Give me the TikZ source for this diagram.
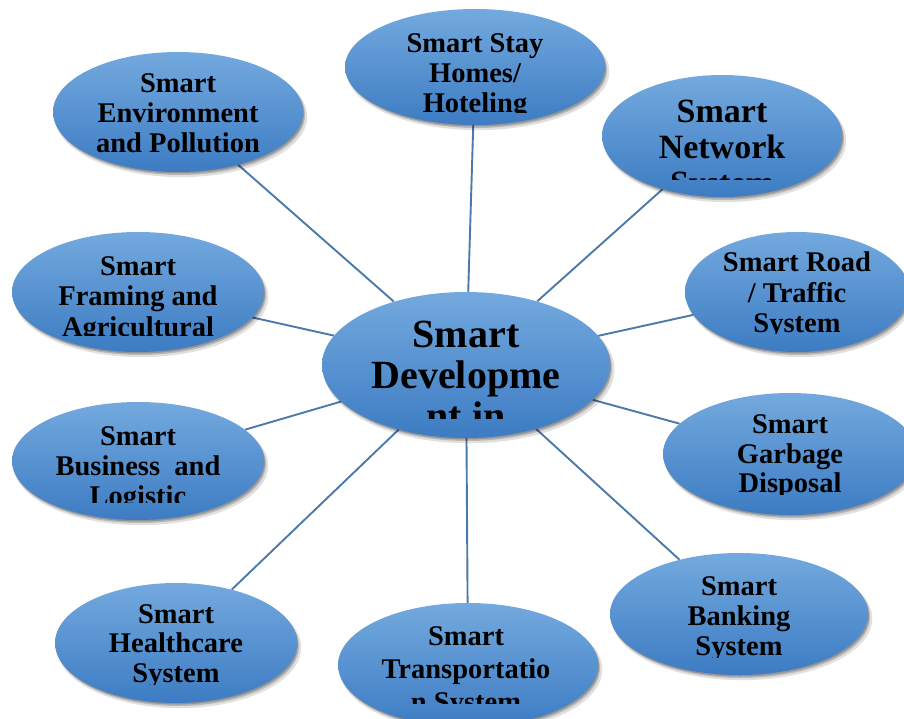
\documentclass[tikz,border=0pt]{standalone}
\usepackage{fontspec}
\setmainfont{Liberation Serif}
\usetikzlibrary{shapes.geometric,shadows,backgrounds}
\definecolor{bubtop}{HTML}{73A9DE}
\definecolor{bubbot}{HTML}{3D7CC3}
\definecolor{linkc}{HTML}{4A7AAA}
\tikzset{
  bub/.style={ellipse, inner sep=0pt, draw=none, top color=bubtop, bottom color=bubbot,
    drop shadow={shadow xshift=3pt, shadow yshift=-4.5pt, shadow scale=1.01, opacity=0.12, fill=black},
    drop shadow={shadow xshift=2pt, shadow yshift=-3pt, opacity=0.18, fill=black},
    drop shadow={shadow xshift=1pt, shadow yshift=-1.5pt, opacity=0.2, fill=black}},
  conn/.style={draw=linkc, line width=1.9pt},
  lbl/.style={anchor=base, inner sep=0pt, font=\bfseries\fontsize{28.5}{30}\selectfont},
  lblbig/.style={anchor=base, inner sep=0pt, font=\bfseries\fontsize{40}{41}\selectfont},
  lblmid/.style={anchor=base, inner sep=0pt, font=\bfseries\fontsize{34}{36}\selectfont},
}
\begin{document}
\begin{tikzpicture}[x=1pt,y=-1pt]
\clip (0,0) rectangle (904,719);
\useasboundingbox (0,0) rectangle (904,719);

% bubbles
\node[bub, minimum width=288pt, minimum height=146pt] (c) at (466,365) {};
\node[bub, minimum width=260pt, minimum height=116pt] (stay) at (475,67) {};
\node[bub, minimum width=240pt, minimum height=122pt] (net) at (722,136) {};
\node[bub, minimum width=224pt, minimum height=120pt] (road) at (797,292) {};
\node[bub, minimum width=254pt, minimum height=122pt] (garb) at (790,454) {};
\node[bub, minimum width=258pt, minimum height=122pt] (bank) at (739,614) {};
\node[bub, minimum width=260pt, minimum height=124pt] (trans) at (468,665) {};
\node[bub, minimum width=242pt, minimum height=120pt] (health) at (176,643) {};
\node[bub, minimum width=252pt, minimum height=118pt] (busi) at (138,461) {};
\node[bub, minimum width=252pt, minimum height=120pt] (farm) at (138,292) {};
\node[bub, minimum width=250pt, minimum height=120pt] (env) at (178,112) {};

% connectors
\begin{pgfonlayer}{background}
\draw[conn] (c) -- (env);
\draw[conn] (c) -- (stay);
\draw[conn] (c) -- (net);
\draw[conn] (c) -- (road);
\draw[conn] (c) -- (garb);
\draw[conn] (c) -- (bank);
\draw[conn] (c) -- (trans);
\draw[conn] (c) -- (health);
\draw[conn] (c) -- (busi);
\draw[conn] (c) -- (farm);
\end{pgfonlayer}

% texts
\begin{scope}
\clip (322,292) rectangle (610,418);
\node[lblbig] (c1) at (466,347) {Smart};
\node[lblbig] (c2) at (466,388) {Developme};
\node[lblbig] (c3) at (466,429) {nt in};
\end{scope}

\begin{scope}
\clip (345,9) rectangle (605,113);
\node[lbl] (stay1) at (475,53) {Smart Stay};
\node[lbl] (stay2) at (475,83) {Homes/};
\node[lbl] (stay3) at (475,113) {Hoteling};
\end{scope}

\begin{scope}
\clip (602,75) rectangle (842,180);
\node[lblmid] (net1) at (722,123) {Smart};
\node[lblmid] (net2) at (722,159) {Network};
\node[lblmid] (net3) at (722,195) {System};
\end{scope}

\begin{scope}
\clip (685,232) rectangle (909,333.5);
\node[lbl] (road1) at (797,272) {Smart Road};
\node[lbl] (road2) at (797,302) {/ Traffic};
\node[lbl] (road3) at (797,332) {System};
\end{scope}

\begin{scope}
\clip (663,393) rectangle (917,494);
\node[lbl] (garb1) at (790,433) {Smart};
\node[lbl] (garb2) at (790,463) {Garbage};
\node[lbl] (garb3) at (790,492) {Disposal};
\end{scope}

\begin{scope}
\clip (610,553) rectangle (868,657);
\node[lbl] (bank1) at (739,595) {Smart};
\node[lbl] (bank2) at (739,625) {Banking};
\node[lbl] (bank3) at (739,655) {System};
\end{scope}

\begin{scope}
\clip (338,603) rectangle (598,703);
\node[lbl] (trans1) at (466,645) {Smart};
\node[lbl] (trans2) at (466,678) {Transportatio};
\node[lbl] (trans3) at (466,711) {n System};
\end{scope}

\begin{scope}
\clip (55,583) rectangle (297,684);
\node[lbl] (health1) at (176,623) {Smart};
\node[lbl] (health2) at (176,652) {Healthcare};
\node[lbl] (health3) at (176,682) {System};
\end{scope}

\begin{scope}
\clip (12,402) rectangle (264,502);
\node[lbl] (busi1) at (138,445) {Smart};
\node[lbl] (busi2) at (138,475) {Business\ \ and};
\node[lbl] (busi3) at (138,505) {Logistic};
\end{scope}

\begin{scope}
\clip (12,232) rectangle (264,335);
\node[lbl] (farm1) at (138,275) {Smart};
\node[lbl] (farm2) at (138,305) {Framing and};
\node[lbl] (farm3) at (138,336) {Agricultural};
\end{scope}

\begin{scope}
\clip (53,52) rectangle (303,160);
\node[lbl] (env1) at (178,93) {Smart};
\node[lbl] (env2) at (178,123) {Environment};
\node[lbl] (env3) at (178,153) {and Pollution};
\end{scope}
\end{tikzpicture}
\end{document}
